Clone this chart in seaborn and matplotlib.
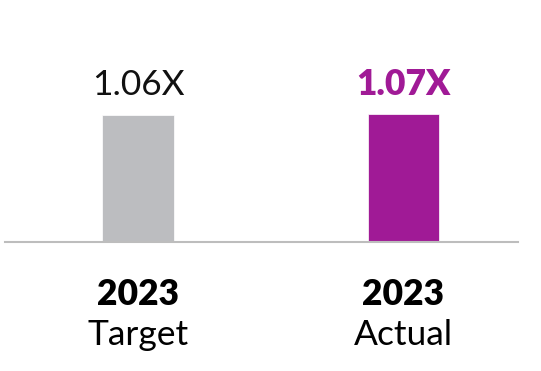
import matplotlib
matplotlib.use("Agg")
import matplotlib.pyplot as plt
import seaborn as sns
import pandas as pd

sns.set_style("white")
plt.rcParams["font.family"] = ["Lato", "DejaVu Sans"]

# data
categories = ["Target", "Actual"]
years = ["2023", "2023"]
values = [1.06, 1.07]
value_labels = ["1.06X", "1.07X"]
colors = ["#BCBDC0", "#A01A96"]

df = pd.DataFrame({"category": categories, "value": values})

fig = plt.figure(figsize=(5.41, 3.71), dpi=100)
ax = fig.add_axes([0.0, 0.3477, 1.0, 0.5167])

sns.barplot(data=df, x="category", y="value", hue="category",
            palette=colors, width=0.27, saturation=1, legend=False, ax=ax,
            edgecolor="white", linewidth=0.5)

ax.set_xlim(-0.52, 1.518)
ax.set_ylim(0, 1.6)
ax.set_xticks([])
ax.set_yticks([])
ax.set_xlabel("")
ax.set_ylabel("")
for s in ["top", "right", "left"]:
    ax.spines[s].set_visible(False)
ax.spines["bottom"].set_color("#BDBDBD")
ax.spines["bottom"].set_linewidth(1.5)
ax.spines["bottom"].set_bounds(-0.5, 1.431)

# value labels above bars
for i, (v, lab) in enumerate(zip(values, value_labels)):
    bold = i == 1
    ax.annotate(lab, xy=(i, 1.06), xytext=(0, 14.4), textcoords="offset points",
                ha="center", va="baseline", fontsize=25.5,
                fontweight="heavy" if bold else "normal",
                color=colors[1] if bold else "#111111")

# category labels under the axis
tr = ax.get_xaxis_transform()
for i, (yr, cat) in enumerate(zip(years, categories)):
    ax.text(i, -0.329, yr, transform=tr, ha="center", va="baseline",
            fontsize=25.5, fontweight="heavy", color="black")
    ax.text(i, -0.537, cat, transform=tr, ha="center", va="baseline",
            fontsize=25.5, fontweight="normal", color="black")

fig.savefig("out.png", dpi=100)
